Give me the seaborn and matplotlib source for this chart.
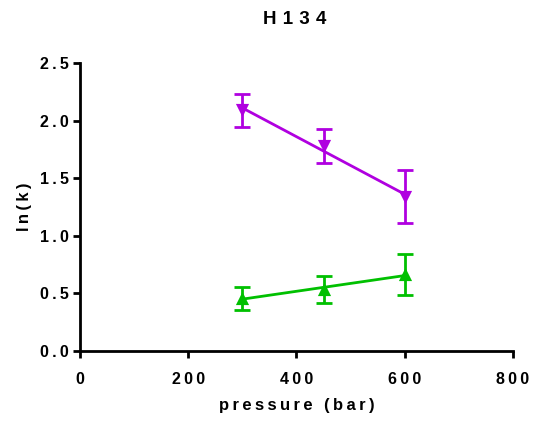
import numpy as np
import pandas as pd
import matplotlib
matplotlib.use("Agg")
import matplotlib.pyplot as plt
from matplotlib.ticker import FuncFormatter
import seaborn as sns

# Measured ln(k) values for H134 at three pressures
pressure = [300, 450, 600]
lnk_upper = [2.09, 1.78, 1.34]
err_upper = [0.14, 0.15, 0.23]
lnk_lower = [0.46, 0.535, 0.665]
err_lower = [0.10, 0.12, 0.175]

x_ticks = [0, 200, 400, 600, 800]
y_ticks = [0.0, 0.5, 1.0, 1.5, 2.0, 2.5]

purple = "#B000E0"
green = "#00C000"

sns.set_style("ticks")
plt.rcParams["font.family"] = ["Liberation Sans", "DejaVu Sans"]
plt.rcParams["font.weight"] = "bold"
plt.rcParams["text.color"] = "black"


def tracked(s, gap="\u2009"):
    """Widen letter spacing with narrow space characters."""
    return gap.join(s)


fig = plt.figure(figsize=(5.33, 4.24), dpi=100)
ax = fig.add_axes([0.150, 0.172, 0.8125, 0.679])

series = [
    (lnk_upper, err_upper, purple, "v"),
    (lnk_lower, err_lower, green, "^"),
]
for vals, errs, col, mk in series:
    df = pd.DataFrame({"pressure": pressure, "lnk": vals})
    # linear fit through the means
    sns.regplot(data=df, x="pressure", y="lnk", ax=ax, scatter=False,
                ci=None, truncate=True, color=col, line_kws={"lw": 2})
    ax.errorbar(pressure, vals, yerr=errs, fmt="none", ecolor=col,
                elinewidth=2, capsize=6, capthick=2, zorder=3)
    sns.scatterplot(data=df, x="pressure", y="lnk", ax=ax, marker=mk,
                    s=90, color=col, edgecolor=col, linewidth=0, zorder=4)

ax.set_xlim(0, 800)
ax.set_ylim(0, 2.5)
ax.set_xticks(x_ticks)
ax.set_yticks(y_ticks)
ax.xaxis.set_major_formatter(FuncFormatter(lambda v, p: tracked(f"{v:.0f}")))
ax.yaxis.set_major_formatter(FuncFormatter(lambda v, p: tracked(f"{v:.1f}")))
for s in ["top", "right"]:
    ax.spines[s].set_visible(False)
for s in ["left", "bottom"]:
    ax.spines[s].set_linewidth(2)
    ax.spines[s].set_color("black")
ax.tick_params(width=2, length=5, labelsize=11.5, colors="black")
ax.tick_params(axis="x", pad=10)
ax.tick_params(axis="y", pad=3)
for lab in ax.get_xticklabels() + ax.get_yticklabels():
    lab.set_fontweight("bold")

ax.set_xlabel(tracked("pressure (bar)"), fontsize=12,
              fontweight="bold", labelpad=8, color="black")
ax.set_ylabel(tracked("ln(k)"), fontsize=12,
              fontweight="bold", labelpad=6, color="black")
fig.suptitle(tracked("H134", "\u2004"), x=0.553, y=0.975, fontsize=13.5,
             fontweight="bold", color="black")

fig.savefig("out.png", dpi=100)
